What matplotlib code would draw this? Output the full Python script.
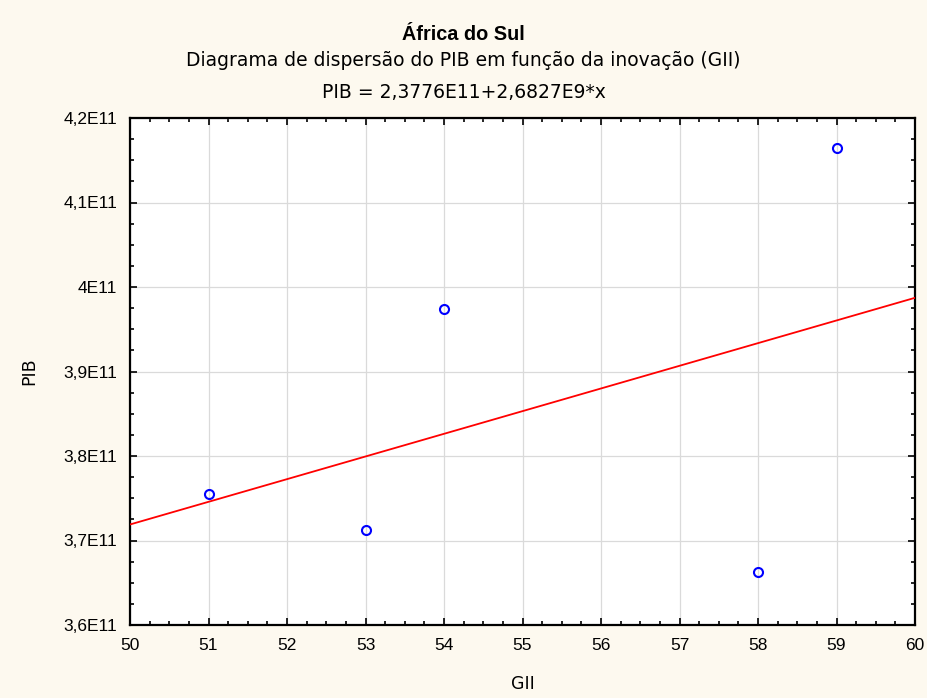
import matplotlib.pyplot as plt
import numpy as np
from matplotlib import font_manager
from matplotlib.ticker import MultipleLocator, FuncFormatter

plt.rcParams['font.family'] = ['Liberation Sans', 'DejaVu Sans']

# GII vs PIB (África do Sul)
gii = [51, 53, 54, 58, 59]
pib = [3.755e11, 3.712e11, 3.974e11, 3.663e11, 4.164e11]

# regression from the chart subtitle
intercept = 2.3776e11
slope = 2.6827e9

# pick the regular-width bold face explicitly (avoid the Narrow variant)
bold_file = None
for f in font_manager.fontManager.ttflist:
    if f.name == 'Liberation Sans' and f.weight == 700 and f.style == 'normal' and 'Narrow' not in f.fname:
        bold_file = f.fname
        break
if bold_file:
    title_font = font_manager.FontProperties(fname=bold_file, size=14.3)
else:
    title_font = font_manager.FontProperties(family='DejaVu Sans', weight='bold', size=13)

fig = plt.figure(figsize=(9.27, 6.98), dpi=100, facecolor='#fdf9ef')
ax = fig.add_axes([130 / 927, 1 - 625 / 698, 785 / 927, 507 / 698])
ax.set_facecolor('white')

xs = np.array([50, 60])
ax.plot(xs, intercept + slope * xs, color='red', lw=1.3, zorder=3)
ax.plot(gii, pib, 'o', mfc='none', mec='blue', mew=1.5, ms=6.5, zorder=4)

ax.set_xlim(50, 60)
ax.set_ylim(3.6e11, 4.2e11)
ax.xaxis.set_major_locator(MultipleLocator(1))
ax.xaxis.set_minor_locator(MultipleLocator(0.25))
ax.yaxis.set_major_locator(MultipleLocator(1e10))
ax.yaxis.set_minor_locator(MultipleLocator(0.25e10))


def fmt_y(v, pos):
    m = v / 1e11
    s = ('%.1f' % m).rstrip('0').rstrip('.')
    return s.replace('.', ',') + 'E11'


ax.yaxis.set_major_formatter(FuncFormatter(fmt_y))
ax.tick_params(which='both', direction='in', top=True, right=True, labelsize=12.5, width=1.2)
ax.tick_params(which='major', length=5, pad=9)
ax.tick_params(which='minor', length=3)
ax.grid(True, which='major', color='#dadada', lw=0.9)
ax.set_axisbelow(True)
for sp in ax.spines.values():
    sp.set_linewidth(1.6)

ax.set_xlabel('GII', fontsize=12.5, family='DejaVu Sans', labelpad=16)
ax.set_ylabel('PIB', fontsize=12.5, family='DejaVu Sans', labelpad=18)

fig.text(0.5, 1 - 35 / 698, 'África do Sul', ha='center', va='center', fontproperties=title_font)
fig.text(0.5, 1 - 61 / 698, 'Diagrama de dispersão do PIB em função da inovação (GII)',
         ha='center', va='center', fontsize=13.5, family='DejaVu Sans')
fig.text(0.5, 1 - 93 / 698, 'PIB = 2,3776E11+2,6827E9*x', ha='center', va='center',
         fontsize=13.5, family='DejaVu Sans')

fig.savefig('out.png', dpi=100, facecolor=fig.get_facecolor())
